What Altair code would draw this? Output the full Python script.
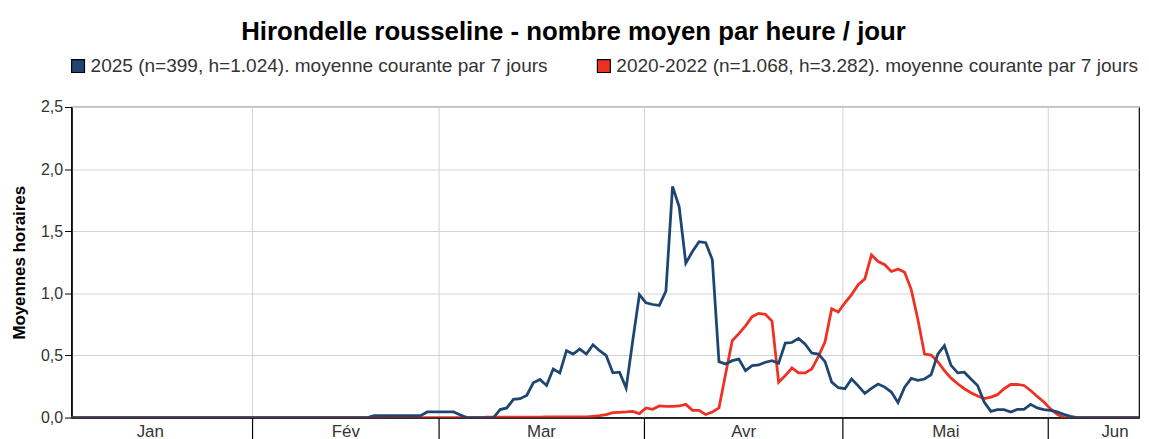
import altair as alt
import pandas as pd

# ---- data ----
jours = list(range(4, 167))  # day of year

serie_2025 = (
    [0] * 46
    + [0.015] * 8
    + [0.045] * 5
    + [0.02]
    + [0] * 5
    + [0.064, 0.077, 0.146, 0.152, 0.178, 0.28, 0.306, 0.258, 0.391, 0.359,
       0.538, 0.511, 0.551, 0.511, 0.586, 0.538, 0.498, 0.36, 0.365, 0.237,
       0.62, 0.99, 0.924, 0.91, 0.903, 1.017, 1.861, 1.696, 1.243, 1.336,
       1.416, 1.408, 1.27, 0.45, 0.431, 0.458, 0.471, 0.378, 0.418, 0.423,
       0.445, 0.458, 0.437, 0.599, 0.604, 0.637, 0.591, 0.519, 0.511, 0.45,
       0.285, 0.24, 0.232, 0.31, 0.255, 0.195, 0.235, 0.27, 0.245, 0.205,
       0.12, 0.245, 0.315, 0.30, 0.31, 0.345, 0.51, 0.578, 0.42, 0.36,
       0.365, 0.31, 0.258, 0.125, 0.05, 0.064, 0.064, 0.045, 0.066, 0.066,
       0.106, 0.077, 0.064, 0.058, 0.045, 0.026, 0.01]
    + [0] * 11
)

serie_2020_2022 = (
    [0] * 63
    + [0.003] * 9
    + [0.006] * 7
    + [0.01, 0.015, 0.024, 0.04, 0.042, 0.045, 0.05, 0.032, 0.077, 0.066,
       0.093, 0.09, 0.09, 0.093, 0.106, 0.058, 0.058, 0.024, 0.045, 0.077,
       0.35, 0.618, 0.676, 0.738, 0.812, 0.839, 0.831, 0.777, 0.285, 0.338,
       0.399, 0.359, 0.359, 0.391, 0.493, 0.61, 0.876, 0.849, 0.924, 0.99,
       1.07, 1.116, 1.31, 1.256, 1.23, 1.176, 1.195, 1.17, 1.03, 0.79,
       0.511, 0.503, 0.45, 0.378, 0.317, 0.272, 0.232, 0.2, 0.173, 0.152,
       0.165, 0.184, 0.232, 0.266, 0.266, 0.258, 0.218, 0.17, 0.125, 0.07,
       0.025]
    + [0] * 13
)

assert len(serie_2025) == len(jours)
assert len(serie_2020_2022) == len(jours)

label_2025 = "2025 (n=399, h=1.024). moyenne courante par 7 jours"
label_ref = "2020-2022 (n=1.068, h=3.282). moyenne courante par 7 jours"
couleurs = ["#1f4672", "#ef3124"]

debuts_mois = [32, 60, 91, 121, 152]
milieux_mois = [16.5, 46, 75.5, 106, 136.5, 162]
mois = ["Jan", "Fév", "Mar", "Avr", "Mai", "Jun"]
y_ticks = [0, 0.5, 1.0, 1.5, 2.0, 2.5]

# reference first so that 2025 is drawn on top
df = pd.concat([
    pd.DataFrame({"jour": jours, "valeur": serie_2020_2022, "serie": label_ref}),
    pd.DataFrame({"jour": jours, "valeur": serie_2025, "serie": label_2025}),
], ignore_index=True)

label_expr = " : ".join(
    f"datum.value == {v} ? '{m}'" for v, m in zip(milieux_mois, mois)
) + " : ''"
is_bound = "indexof([" + ",".join(str(b) for b in debuts_mois) + "], datum.value) >= 0"

FONT = "Liberation Sans"

base = alt.Chart(df)

lines = base.mark_line(strokeWidth=2.8, clip=True).encode(
    x=alt.X(
        "pos:Q",
        scale=alt.Scale(domain=[4.7, 165.7], nice=False, zero=False),
        axis=alt.Axis(
            values=debuts_mois + milieux_mois,
            title=None,
            grid=True,
            gridColor="#d2d2d2",
            gridOpacity={"condition": {"test": is_bound, "value": 1}, "value": 0},
            tickOpacity={"condition": {"test": is_bound, "value": 1}, "value": 0},
            tickColor="black",
            tickSize=25,
            tickWidth=1.2,
            labelPadding=-19,
            labelExpr=label_expr,
            labelOverlap=False,
            labelFlush=False,
            labelFontSize=17,
            labelColor="#333333",
            labelFont=FONT,
            domainColor="black",
            domainWidth=1.5,
        ),
    ),
    y=alt.Y(
        "valeur:Q",
        scale=alt.Scale(domain=[0, 2.5], nice=False),
        axis=alt.Axis(
            values=y_ticks,
            labelExpr="replace(format(datum.value, '.1f'), '.', ',')",
            title="Moyennes horaires",
            titleFontSize=17,
            titleFontWeight="bold",
            titleColor="black",
            titleFont=FONT,
            titlePadding=12,
            tickSize=7,
            tickColor="black",
            domainColor="black",
            domainWidth=1.5,
            gridColor="#d2d2d2",
            labelFontSize=16,
            labelColor="#333333",
            labelFont=FONT,
            labelPadding=2,
        ),
    ),
    stroke=alt.Stroke(
        "serie:N",
        scale=alt.Scale(domain=[label_2025, label_ref], range=couleurs),
        legend=None,
    ),
).transform_calculate(
    pos="datum.jour + 0.35"
)

# zero-size square layer that only provides the filled legend symbols
legend_layer = base.mark_square(filled=True, size=0).encode(
    fill=alt.Fill(
        "serie:N",
        scale=alt.Scale(domain=[label_2025, label_ref], range=couleurs),
        legend=alt.Legend(
            title=None,
            orient="none",
            direction="horizontal",
            legendX=-3,
            legendY=-51,
            symbolType="square",
            symbolSize=169,
            symbolStrokeColor="black",
            symbolStrokeWidth=1.2,
            symbolOpacity=1,
            labelFontSize=19.2,
            labelFont=FONT,
            labelColor="#333333",
            labelLimit=1000,
            labelOffset=3,
            columnPadding=46,
            padding=0,
        ),
    ),
)

chart = alt.layer(lines, legend_layer).resolve_scale(
    stroke="independent", fill="independent"
).properties(
    width=1076,
    height=313,
    title=alt.Title(
        "Hirondelle rousseline - nombre moyen par heure / jour",
        fontSize=26,
        fontWeight="bold",
        color="black",
        font=FONT,
        anchor="middle",
        dx=-32,
        offset=12,
    ),
    autosize=alt.AutoSizeParams(type="none"),
    padding={"left": 64, "top": 98, "right": 2, "bottom": 40},
).configure_view(
    stroke="black",
    strokeWidth=1.2,
)

chart.save("out.html", embed_options={"renderer": "svg", "actions": False})
